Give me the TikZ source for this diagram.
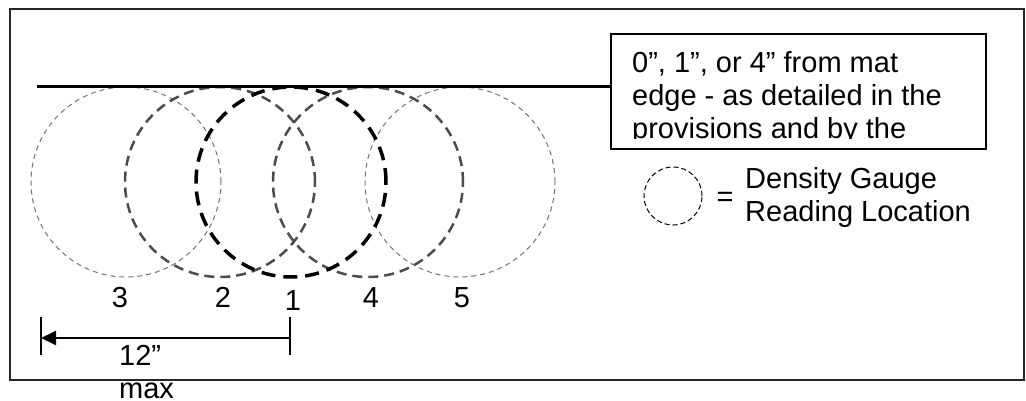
\documentclass[tikz,border=0pt]{standalone}
\usepackage{fontspec}
\setmainfont{Liberation Sans}
\usetikzlibrary{arrows.meta}
\begin{document}
\begin{tikzpicture}[x=1pt,y=-1pt,
  lbl/.style={inner sep=0pt,anchor=base,font=\fontsize{29}{33}\selectfont},
  ltxt/.style={inner sep=0pt,anchor=base west,font=\fontsize{29}{33}\selectfont,align=left},
  ring/.style={circle,inner sep=0pt,minimum size=190pt},
  thinring/.style={ring,draw=black!55,line width=1pt,dash pattern=on 5pt off 4pt},
  medring/.style={ring,draw=black!70,line width=2.5pt,dash pattern=on 10pt off 6pt},
  boldring/.style={ring,draw=black,line width=3.5pt,dash pattern=on 14pt off 8pt},
  frame/.style={draw=black!85,line width=1.8pt}]
\useasboundingbox (0,0) rectangle (1026,401);
\fill[white] (0,0) rectangle (1026,401);
% outer frame
\draw[frame] (10,9) rectangle (1024,380);
% circles
\node[thinring] (c3) at (126,182) {};
\node[thinring] (c5) at (460,182) {};
\node[medring] (c2) at (220,182) {};
\node[medring] (c4) at (368,182) {};
\node[boldring] (c1) at (291,182) {};
% labels
\node[lbl] (l3) at (120,307) {3};
\node[lbl] (l2) at (223,307) {2};
\node[lbl] (l1) at (293,310) {1};
\node[lbl] (l4) at (371,307) {4};
\node[lbl] (l5) at (462,307) {5};
% text box
\node[draw=black,line width=1.8pt,minimum width=375pt,minimum height=115pt,inner sep=0pt] (box) at (798.5,91.5) {};
\begin{scope}
\clip (612,35) rectangle (985,138.5);
\node[ltxt] (t1) at (632,73) {0”, 1”, or 4” from mat};
\node[ltxt] (t2) at (632,106) {edge - as detailed in the};
\node[ltxt] (t3) at (632,139) {provisions and by the};
\end{scope}
% mat edge line
\coordinate (edge) at (37,87);
\draw[line width=3pt] (edge) -- (edge -| box.west);
% dimension
\coordinate (dLt) at (41,317);
\coordinate (dLb) at (41,355);
\coordinate (dRt) at (290,317);
\coordinate (dRb) at (290,355);
\coordinate (dL) at (41,338);
\coordinate (dR) at (290,338);
\draw[line width=1.8pt] (dLt) -- (dLb);
\draw[line width=1.8pt] (dRt) -- (dRb);
\draw[line width=1.8pt,-{Triangle[length=15pt,width=14pt]}] (dR) -- (dL);
\node[ltxt] (dim) at (119,398) {12”\\max};
% legend
\node[circle,inner sep=0pt,minimum size=58pt,draw=black,line width=1pt,dash pattern=on 5pt off 3pt] (leg) at (673,196) {};
\node[lbl] (eq) at (725,207) {=};
\node[ltxt] (legt) at (745,222) {Density Gauge\\Reading Location};
\end{tikzpicture}
\end{document}
